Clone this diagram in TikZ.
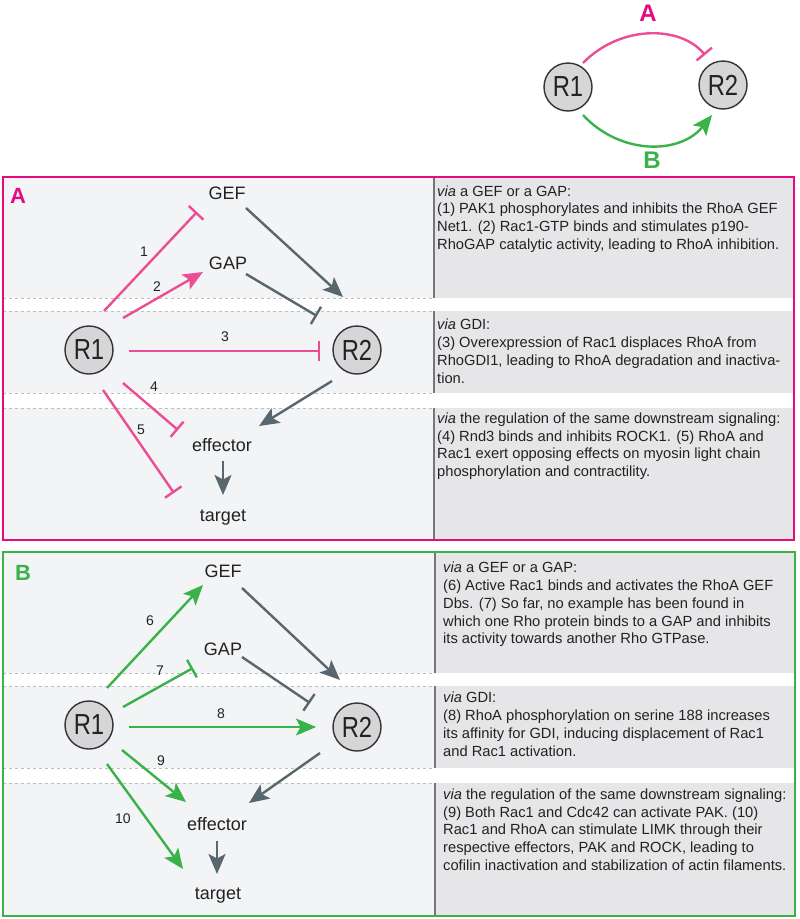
\documentclass[tikz,border=0pt]{standalone}
\usepackage{fontspec}
\setmainfont{Liberation Sans}
\usetikzlibrary{arrows.meta,calc}
\definecolor{rpink}{RGB}{236,78,150}
\definecolor{apink}{RGB}{228,10,128}
\definecolor{rgreen}{RGB}{58,178,74}
\definecolor{rgray}{RGB}{88,103,110}
\definecolor{lbg}{RGB}{243,244,246}
\definecolor{tbg}{RGB}{230,230,232}
\definecolor{dline}{RGB}{190,190,190}
\definecolor{vline}{RGB}{115,118,122}
\definecolor{cfill}{RGB}{214,214,216}
\definecolor{txt}{RGB}{34,34,34}
\begin{document}
\begin{tikzpicture}[x=1pt,y=-1pt,
  lbl/.style={font=\fontsize{18}{20}\selectfont, inner sep=0pt, anchor=base, text=txt},
  num/.style={font=\fontsize{14}{16}\selectfont, inner sep=0pt, text=txt},
  rnode/.style={circle, draw=black!80, line width=1.4pt, fill=cfill, minimum size=48pt, inner sep=0pt, font=\fontsize{29}{30}\selectfont, text=txt},
  body/.style={font=\fontsize{14.7}{17.9}\selectfont, align=left, inner sep=0pt, anchor=north west, text=txt},
  panlbl/.style={font=\fontsize{22}{24}\selectfont\bfseries, inner sep=0pt},
  toplbl/.style={font=\fontsize{24}{26}\selectfont\bfseries, inner sep=0pt},
  sarr/.style={line width=2.4pt, -{Stealth[length=20pt,width=17pt,inset=4.5pt]}},
  sbar/.style={line width=2.4pt, -{Bar[width=20pt]}},
  pinkarr/.style={sarr, draw=rpink},
  pinkbar/.style={sbar, draw=rpink},
  greenarr/.style={sarr, draw=rgreen},
  greenbar/.style={sbar, draw=rgreen},
  grayarr/.style={sarr, draw=rgray},
  graybar/.style={sbar, draw=rgray},
  dsh/.style={draw=dline, dashed, line width=0.6pt},
  vl/.style={draw=vline, line width=1.3pt}
]
\useasboundingbox (0,0) rectangle (800,919);
\fill[white] (0,0) rectangle (800,919);

% ---------------- top diagram ----------------
\node[rnode] (tR1) at (568,87) {\scalebox{0.82}[1]{R1}};
\node[rnode] (tR2) at (723,85) {\scalebox{0.82}[1]{R2}};
\node[toplbl, text=apink] (tA) at (648,13) {A};
\node[toplbl, text=rgreen] (tB) at (652,160) {B};
\draw[pinkbar] ($(tR1)+(15,-24)$) .. controls (620,25) and (680,25) .. ($(tR2)+(-18,-30)$);
\draw[greenarr] ($(tR1)+(15,28)$) .. controls (620,155) and (680,155) .. ($(tR2)+(-11,30)$);

% ---------------- panel A ----------------
\fill[lbg] (3,177) rectangle (434,540);
\fill[white] (3,298) rectangle (794,311);
\fill[white] (3,393) rectangle (794,408);
\fill[tbg] (434,177) rectangle (794,298);
\fill[tbg] (434,311) rectangle (794,393);
\fill[tbg] (434,408) rectangle (794,540);
\draw[dsh] (3,298) -- (434,298);
\draw[dsh] (3,311) -- (434,311);
\draw[dsh] (3,393) -- (434,393);
\draw[dsh] (3,408) -- (434,408);
\draw[vl] (434,177) -- (434,298);
\draw[vl] (434,311) -- (434,393);
\draw[vl] (434,408) -- (434,540);
\draw[apink, line width=1.2pt] (3,177) rectangle (794,540);

\node[panlbl, text=apink] (pA) at (18,196) {A};

\node[body] (aT1) at (437,185.2) {\textit{via} a GEF or a GAP:\\
(1) PAK1 phosphorylates and inhibits the RhoA GEF\\
Net1. (2) Rac1-GTP binds and stimulates p190-\\
RhoGAP catalytic activity, leading to RhoA inhibition.};
\node[body] (aT2) at (437,318.5) {\textit{via} GDI:\\
(3) Overexpression of Rac1 displaces RhoA from\\
RhoGDI1, leading to RhoA degradation and inactiva-\\
tion.};
\node[body] (aT3) at (437,412.3) {\textit{via} the regulation of the same downstream signaling:\\
(4) Rnd3 binds and inhibits ROCK1. (5) RhoA and\\
Rac1 exert opposing effects on myosin light chain\\
phosphorylation and contractility.};

\node[lbl] (aGEF) at (227,199) {GEF};
\node[lbl] (aGAP) at (228,269) {GAP};
\node[rnode] (aR1) at (89,350) {\scalebox{0.82}[1]{R1}};
\node[rnode] (aR2) at (357,350) {\scalebox{0.82}[1]{R2}};
\node[lbl] (aEff) at (222,451) {effector};
\node[lbl] (aTgt) at (223,521) {target};

\draw[pinkbar] ($(aR1)+(15,-39)$) -- ($(aGEF.base)+(-30,13)$);
\draw[pinkarr] ($(aR1)+(34,-32)$) -- ($(aGAP.base)+(-25,3)$);
\draw[pinkbar] ($(aR1)+(40,1)$) -- ($(aR2)+(-37,1)$);
\draw[grayarr] ($(aGEF.base)+(19,9)$) -- ($(aR2)+(-14,-53)$);
\draw[graybar] ($(aGAP.base)+(18,5)$) -- ($(aR2)+(-40,-34)$);
\draw[pinkbar] ($(aR1)+(34,33)$) -- ($(aEff.base)+(-44,-21)$);
\draw[pinkbar] ($(aR1)+(14,40)$) -- ($(aTgt.base)+(-49,-28)$);
\draw[grayarr] ($(aR2)+(-25,31)$) -- ($(aEff.base)+(37,-25)$);
\draw[grayarr] ($(aEff.base)+(1,10)$) -- ($(aTgt.base)+(0,-26)$);

\node[num] (n1) at (144,252) {1};
\node[num] (n2) at (157,287) {2};
\node[num] (n3) at (225,337) {3};
\node[num] (n4) at (154,387) {4};
\node[num] (n5) at (141,430) {5};

% ---------------- panel B ----------------
\fill[lbg] (3,552) rectangle (435,916);
\fill[white] (3,673) rectangle (795,686);
\fill[white] (3,768) rectangle (795,783);
\fill[tbg] (435,552) rectangle (795,673);
\fill[tbg] (435,686) rectangle (795,768);
\fill[tbg] (435,783) rectangle (795,916);
\draw[dsh] (3,673) -- (435,673);
\draw[dsh] (3,686) -- (435,686);
\draw[dsh] (3,768) -- (435,768);
\draw[dsh] (3,783) -- (435,783);
\draw[vl] (435,552) -- (435,673);
\draw[vl] (435,686) -- (435,768);
\draw[vl] (435,783) -- (435,916);
\draw[rgreen, line width=1.2pt] (3,552) rectangle (795,916);

\node[panlbl, text=rgreen] (pB) at (23,573) {B};

\node[body] (bT1) at (443,561.5) {\textit{via} a GEF or a GAP:\\
(6) Active Rac1 binds and activates the RhoA GEF\\
Dbs. (7) So far, no example has been found in\\
which one Rho protein binds to a GAP and inhibits\\
its activity towards another Rho GTPase.};
\node[body] (bT2) at (443,691.5) {\textit{via} GDI:\\
(8) RhoA phosphorylation on serine 188 increases\\
its affinity for GDI, inducing displacement of Rac1\\
and Rac1 activation.};
\node[body] (bT3) at (443,788.3) {\textit{via} the regulation of the same downstream signaling:\\
(9) Both Rac1 and Cdc42 can activate PAK. (10)\\
Rac1 and RhoA can stimulate LIMK through their\\
respective effectors, PAK and ROCK, leading to\\
cofilin inactivation and stabilization of actin filaments.};

\node[lbl] (bGEF) at (223,577) {GEF};
\node[lbl] (bGAP) at (223,655) {GAP};
\node[rnode] (bR1) at (89,725) {\scalebox{0.82}[1]{R1}};
\node[rnode] (bR2) at (357,727) {\scalebox{0.82}[1]{R2}};
\node[lbl] (bEff) at (217,830) {effector};
\node[lbl] (bTgt) at (218,899) {target};

\draw[greenarr] ($(bR1)+(18,-37)$) -- ($(bGEF.base)+(-20,8)$);
\draw[greenbar] ($(bR1)+(34,-18)$) -- ($(bGAP.base)+(-30,13)$);
\draw[greenarr] ($(bR1)+(40,2)$) -- ($(bR2)+(-41,0)$);
\draw[grayarr] ($(bGEF.base)+(19,11)$) -- ($(bR2)+(-17,-47)$);
\draw[graybar] ($(bGAP.base)+(19,2)$) -- ($(bR2)+(-47,-24)$);
\draw[greenarr] ($(bR1)+(33,25)$) -- ($(bEff.base)+(-31,-28)$);
\draw[greenarr] ($(bR1)+(18,39)$) -- ($(bTgt.base)+(-35,-30)$);
\draw[grayarr] ($(bR2)+(-37,26)$) -- ($(bEff.base)+(32,-27)$);
\draw[grayarr] ($(bEff.base)+(0,11)$) -- ($(bTgt.base)+(-1,-25)$);

\node[num] (n6) at (150,621) {6};
\node[num] (n7) at (160,671) {7};
\node[num] (n8) at (221,714) {8};
\node[num] (n9) at (161,761) {9};
\node[num] (n10) at (123,819) {10};
\end{tikzpicture}
\end{document}
